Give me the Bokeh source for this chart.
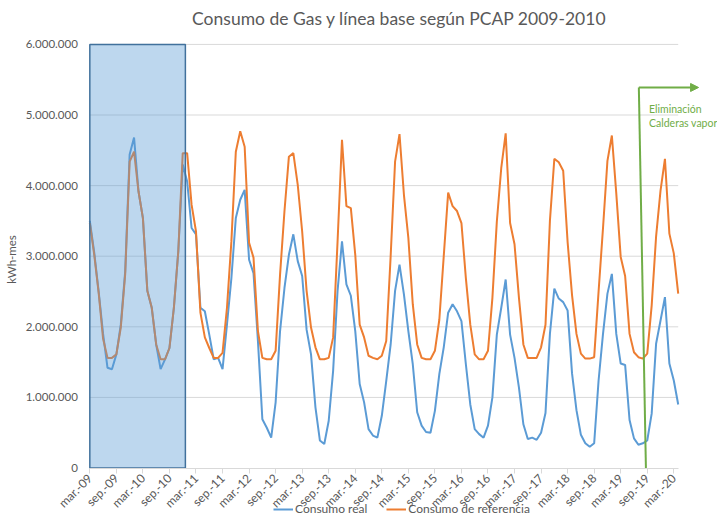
import math
from bokeh.plotting import figure
from bokeh.models import (Range1d, FixedTicker, Legend, LegendItem, Label,
                          Arrow, NormalHead)
from bokeh.embed import file_html
from bokeh.resources import INLINE

# ---------------- data ----------------
tick_labels = ["mar.-09", "sep.-09", "mar.-10", "sep.-10", "mar.-11", "sep.-11",
               "mar.-12", "sep.-12", "mar.-13", "sep.-13", "mar.-14", "sep.-14",
               "mar.-15", "sep.-15", "mar.-16", "sep.-16", "mar.-17", "sep.-17",
               "mar.-18", "sep.-18", "mar.-19", "sep.-19", "mar.-20"]

# monthly values (kWh), mar-09 .. apr-20
consumo_real = [
    3.50e6, 3.05e6, 2.50e6, 1.90e6, 1.42e6, 1.40e6, 1.61e6, 2.03e6, 2.79e6, 4.44e6,
    4.68e6, 3.92e6, 3.54e6, 2.51e6, 2.27e6, 1.75e6, 1.40e6, 1.54e6, 1.70e6, 2.27e6,
    3.07e6, 4.30e6, 4.06e6, 3.40e6, 3.31e6, 2.27e6, 2.22e6, 1.89e6, 1.54e6, 1.56e6,
    1.40e6, 2.03e6, 2.69e6, 3.54e6, 3.80e6, 3.94e6, 2.95e6, 2.76e6, 1.80e6, 0.69e6,
    0.57e6, 0.43e6, 0.93e6, 1.94e6, 2.55e6, 3.02e6, 3.31e6, 2.93e6, 2.72e6, 1.96e6,
    1.61e6, 0.86e6, 0.39e6, 0.34e6, 0.67e6, 1.38e6, 2.51e6, 3.21e6, 2.60e6, 2.44e6,
    1.94e6, 1.19e6, 0.93e6, 0.55e6, 0.46e6, 0.43e6, 0.74e6, 1.23e6, 1.75e6, 2.51e6,
    2.88e6, 2.46e6, 1.94e6, 1.47e6, 0.79e6, 0.60e6, 0.51e6, 0.50e6, 0.81e6, 1.33e6,
    1.71e6, 2.20e6, 2.32e6, 2.22e6, 2.08e6, 1.47e6, 0.90e6, 0.55e6, 0.48e6, 0.43e6,
    0.60e6, 1.00e6, 1.89e6, 2.27e6, 2.67e6, 1.89e6, 1.56e6, 1.14e6, 0.62e6, 0.41e6,
    0.43e6, 0.40e6, 0.50e6, 0.78e6, 1.90e6, 2.54e6, 2.40e6, 2.35e6, 2.23e6, 1.34e6,
    0.82e6, 0.47e6, 0.35e6, 0.30e6, 0.35e6, 1.24e6, 1.90e6, 2.47e6, 2.75e6, 1.90e6,
    1.48e6, 1.46e6, 0.68e6, 0.42e6, 0.33e6, 0.35e6, 0.39e6, 0.77e6, 1.76e6, 2.09e6,
    2.42e6, 1.48e6, 1.24e6, 0.90e6,
]

consumo_referencia = [
    3.47e6, 3.02e6, 2.48e6, 1.83e6, 1.56e6, 1.56e6, 1.61e6, 1.99e6, 2.75e6, 4.34e6,
    4.48e6, 3.92e6, 3.54e6, 2.51e6, 2.27e6, 1.75e6, 1.54e6, 1.54e6, 1.70e6, 2.27e6,
    3.07e6, 4.46e6, 4.46e6, 3.73e6, 3.35e6, 2.20e6, 1.85e6, 1.70e6, 1.56e6, 1.56e6,
    1.63e6, 2.27e6, 3.21e6, 4.48e6, 4.77e6, 4.55e6, 3.19e6, 2.98e6, 1.94e6, 1.56e6,
    1.54e6, 1.54e6, 1.66e6, 2.74e6, 3.64e6, 4.41e6, 4.46e6, 4.01e6, 3.35e6, 2.51e6,
    1.99e6, 1.71e6, 1.54e6, 1.54e6, 1.56e6, 1.85e6, 3.21e6, 4.65e6, 3.71e6, 3.68e6,
    3.02e6, 2.03e6, 1.85e6, 1.59e6, 1.56e6, 1.54e6, 1.59e6, 1.80e6, 3.00e6, 4.34e6,
    4.73e6, 3.87e6, 3.26e6, 2.32e6, 1.75e6, 1.56e6, 1.54e6, 1.54e6, 1.66e6, 2.10e6,
    3.00e6, 3.90e6, 3.71e6, 3.64e6, 3.47e6, 2.69e6, 2.03e6, 1.61e6, 1.54e6, 1.54e6,
    1.66e6, 2.41e6, 3.49e6, 4.25e6, 4.74e6, 3.47e6, 3.17e6, 2.41e6, 1.75e6, 1.56e6,
    1.56e6, 1.56e6, 1.71e6, 2.03e6, 3.50e6, 4.38e6, 4.33e6, 4.21e6, 3.20e6, 2.45e6,
    1.90e6, 1.62e6, 1.55e6, 1.55e6, 1.57e6, 2.50e6, 3.40e6, 4.35e6, 4.71e6, 3.89e6,
    2.99e6, 2.72e6, 1.90e6, 1.64e6, 1.57e6, 1.55e6, 1.62e6, 2.30e6, 3.28e6, 3.93e6,
    4.38e6, 3.32e6, 3.04e6, 2.47e6,
]

y_ticks = [0, 1000000, 2000000, 3000000, 4000000, 5000000, 6000000]
y_tick_labels = ["0", "1.000.000", "2.000.000", "3.000.000", "4.000.000",
                 "5.000.000", "6.000.000"]

# shaded baseline period (month index range) and the "event" marker
base_period = (0, 21.6)
event_bottom_x = 125.7
event_top_x = 124.1
event_top_y = 5.39e6
event_arrow_end_x = 137.6

TEXT = "#595959"
BLUE = "#5B9BD5"
ORANGE = "#ED7D31"
GREEN = "#70AD47"
GRID = "#D9D9D9"
FONT = "Lato"

months = list(range(len(consumo_real)))
x_ticks = [6 * k for k in range(len(tick_labels))]
x_last = len(months) - 1

# The frame spans the whole figure; both axes are pinned at 0 inside it.
p = figure(width=717, height=518, output_backend="svg", toolbar_location=None,
           x_range=Range1d(-20.19, 141.88), y_range=Range1d(-0.715e6, 6.622e6),
           min_border_left=0, min_border_right=0, min_border_top=0,
           min_border_bottom=0, outline_line_color=None,
           background_fill_color="white", border_fill_color="white")

p.xgrid.visible = False
p.ygrid.visible = False

# horizontal grid lines limited to the data span
grid_levels = y_ticks[1:]
p.segment(x0=[0] * len(grid_levels), x1=[x_last] * len(grid_levels),
          y0=grid_levels, y1=grid_levels, line_color=GRID, line_width=1)

p.yaxis.fixed_location = 0
p.yaxis.ticker = FixedTicker(ticks=y_ticks)
p.yaxis.major_label_overrides = dict(zip(y_ticks, y_tick_labels))
p.yaxis.axis_line_color = None
p.yaxis.major_tick_line_color = None
p.yaxis.major_tick_out = 0
p.yaxis.major_tick_in = 0
p.yaxis.minor_tick_line_color = None
p.yaxis.major_label_text_font = FONT
p.yaxis.major_label_text_font_size = "11.5px"
p.yaxis.major_label_text_color = TEXT
p.yaxis.major_label_standoff = 12
p.yaxis.axis_label = "kWh-mes"
p.yaxis.axis_label_text_font = FONT
p.yaxis.axis_label_text_font_style = "normal"
p.yaxis.axis_label_text_font_size = "11.5px"
p.yaxis.axis_label_text_color = TEXT
p.yaxis.axis_label_standoff = 4

p.xaxis.fixed_location = 0
p.xaxis.bounds = (0, x_last)
p.xaxis.ticker = FixedTicker(ticks=x_ticks)
p.xaxis.major_label_overrides = dict(zip(x_ticks, tick_labels))
p.xaxis.major_label_orientation = math.pi / 4
p.xaxis.axis_line_color = GRID
p.xaxis.major_tick_line_color = GRID
p.xaxis.major_tick_out = 5
p.xaxis.major_tick_in = 0
p.xaxis.minor_tick_line_color = None
p.xaxis.major_label_text_font = FONT
p.xaxis.major_label_text_font_size = "12px"
p.xaxis.major_label_text_color = TEXT
p.xaxis.major_label_standoff = 3

r_real = p.line(months, consumo_real, line_color=BLUE, line_width=2)
r_ref = p.line(months, consumo_referencia, line_color=ORANGE, line_width=2)

p.quad(left=[base_period[0]], right=[base_period[1]], bottom=[y_ticks[0]],
       top=[y_ticks[-1]], fill_color=BLUE, fill_alpha=0.4,
       line_color="#41719C", line_width=1.5)

p.add_layout(Arrow(x_start=event_bottom_x, y_start=0, x_end=event_top_x,
                   y_end=event_top_y, start=None, end=None,
                   line_color=GREEN, line_width=2))
p.add_layout(Arrow(x_start=event_top_x, y_start=event_top_y,
                   x_end=event_arrow_end_x, y_end=event_top_y, start=None,
                   end=NormalHead(size=8, fill_color=GREEN, line_color=GREEN),
                   line_color=GREEN, line_width=2))

p.add_layout(Label(x=126.4, y=5.09e6, text="Eliminación", text_font=FONT,
                   text_font_size="10.5px", text_color=GREEN,
                   text_align="left", text_baseline="middle"))
p.add_layout(Label(x=126.4, y=4.89e6, text="Calderas vapor", text_font=FONT,
                   text_font_size="10.5px", text_color=GREEN,
                   text_align="left", text_baseline="middle"))

p.add_layout(Label(x=70.0, y=6.367e6,
                   text="Consumo de Gas y línea base según PCAP 2009-2010",
                   text_font=FONT, text_font_size="17.5px", text_color=TEXT,
                   text_align="center", text_baseline="middle"))

legend = Legend(items=[LegendItem(label="Consumo real", renderers=[r_real]),
                       LegendItem(label="Consumo de referencia", renderers=[r_ref])],
                orientation="horizontal", location=(273, 2),
                label_text_font=FONT, label_text_font_size="12px",
                label_text_color=TEXT, glyph_width=20, glyph_height=10,
                label_standoff=2, spacing=19, padding=1, margin=0,
                label_height=12, border_line_color=None,
                background_fill_alpha=0)
p.add_layout(legend, "center")

open("out.html", "w").write(file_html(p, INLINE))
